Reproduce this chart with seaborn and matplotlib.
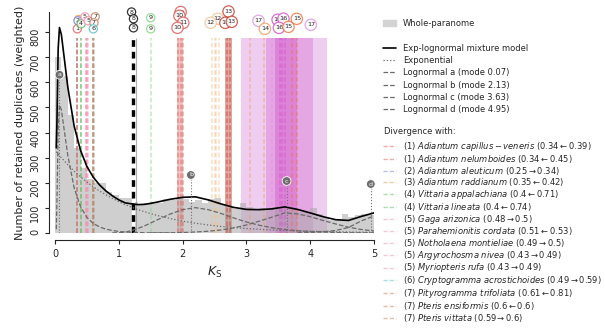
import numpy as np
import pandas as pd
import matplotlib
matplotlib.use("Agg")
import matplotlib.pyplot as plt
import seaborn as sns
from matplotlib.lines import Line2D
from matplotlib.patches import Patch

# ---------------- data ----------------
# whole-paranome Ks histogram (bin width 0.1, weighted counts)
hist_heights = [700, 625, 470, 340, 260, 215, 200, 200, 165, 150,
                140, 140, 125, 115, 120, 125, 120, 135, 130, 140,
                135, 125, 130, 120, 135, 140, 110, 100, 95, 120,
                105, 95, 100, 95, 105, 100, 95, 90, 85, 85,
                100, 75, 60, 50, 55, 75, 65, 70, 75, 70]

# model curves
curve_x = [0.02, 0.03, 0.05, 0.07, 0.1, 0.15, 0.2, 0.3, 0.4, 0.5, 0.6, 0.7, 0.8, 0.9,
           1.0, 1.1, 1.2, 1.3, 1.4, 1.5, 1.6, 1.8, 2.0, 2.2, 2.4, 2.6, 2.8, 3.0,
           3.2, 3.4, 3.6, 3.8, 4.0, 4.2, 4.4, 4.6, 4.8, 5.0]
mixture = [339, 440, 735, 818, 790, 686, 582, 426, 329, 265, 222, 191, 167, 148,
           132, 120, 116, 113, 114, 118, 123, 134, 142, 144, 132, 116, 102, 94,
           93, 96, 104, 94, 80, 65, 53, 50, 66, 80]
exponential = [324, 320, 315, 308, 300, 286, 272, 246, 224, 203, 184, 167, 152, 138,
               125, 113, 103, 93, 85, 77, 70, 58, 47, 39, 32, 26, 22, 18,
               15, 12, 10, 8, 7, 6, 5, 4, 3, 3]
logn_a = [15, 120, 420, 510, 490, 400, 310, 180, 105, 62, 38, 24, 15, 10,
          6, 4, 3, 2, 1, 0.7, 0.5, 0.2, 0, 0, 0, 0, 0, 0,
          0, 0, 0, 0, 0, 0, 0, 0, 0, 0]
logn_b = [0, 0, 0, 0, 0, 0, 0, 0, 0, 0, 0, 0, 0, 0.5,
          1, 3, 10, 18, 28, 40, 52, 75, 93, 101, 93, 78, 60, 44,
          31, 21, 14, 9, 6, 4, 2, 1, 1, 0.5]
logn_c = [0, 0, 0, 0, 0, 0, 0, 0, 0, 0, 0, 0, 0, 0,
          0, 0, 0, 0, 0, 0.3, 0.5, 1, 2, 4, 7, 12, 20, 32,
          47, 63, 80, 76, 65, 50, 36, 23, 14, 8]
logn_d = [0, 0, 0, 0, 0, 0, 0, 0, 0, 0, 0, 0, 0, 0,
          0, 0, 0, 0, 0, 0, 0, 0, 0, 0, 0, 0, 0, 0,
          0, 0, 0, 1, 2, 5, 10, 22, 48, 68]

mode_letters = ["a", "b", "c", "d"]
mode_ks = [0.07, 2.13, 3.63, 4.95]
mode_marker_y = [630, 231, 207, 195]
mode_labels = ["Lognormal a (mode 0.07)", "Lognormal b (mode 2.13)",
               "Lognormal c (mode 3.63)", "Lognormal d (mode 4.95)"]

# divergence lines shown in the legend
sp_group = [1, 1, 2, 3, 4, 4, 5, 5, 5, 5, 5, 6, 7, 7, 7]
sp_name = ["Adiantum\\ capillus-veneris", "Adiantum\\ nelumboides", "Adiantum\\ aleuticum",
           "Adiantum\\ raddianum", "Vittaria\\ appalachiana", "Vittaria\\ lineata",
           "Gaga\\ arizonica", "Parahemionitis\\ cordata", "Notholaena\\ montieliae",
           "Argyrochosma\\ nivea", "Myriopteris\\ rufa", "Cryptogramma\\ acrostichoides",
           "Pityrogramma\\ trifoliata", "Pteris\\ ensiformis", "Pteris\\ vittata"]
sp_from = ["0.34", "0.34", "0.25", "0.35", "0.4", "0.4", "0.48", "0.51", "0.49",
           "0.43", "0.43", "0.49", "0.61", "0.6", "0.59"]
sp_arrow = ["l", "l", "r", "l", "l", "l", "r", "l", "r", "r", "r", "r", "l", "l", "r"]
sp_to = ["0.39", "0.45", "0.34", "0.42", "0.71", "0.74", "0.5", "0.53", "0.5",
         "0.49", "0.49", "0.59", "0.81", "0.6", "0.6"]
sp_ks = [0.34, 0.34, 0.34, 0.35, 0.40, 0.40, 0.50, 0.51, 0.50, 0.49, 0.49, 0.59, 0.61, 0.60, 0.60]

group_colors = {1: "#e8585a", 2: "#7b7bdc", 3: "#e0a040", 4: "#5cb85c", 5: "#f48fb1",
                6: "#4fc1c1", 7: "#c0805a", 8: "#000000", 9: "#7ed67e", 10: "#d9534f",
                11: "#d9534f", 12: "#f2c08c", 13: "#c0392b", 14: "#f39c5a", 15: "#f0703a",
                16: "#d050c8", 17: "#dd90e0"}

# further divergence lines (groups 8-17)
extra_group = [8, 8, 9, 10, 10, 11, 12, 12, 12, 12, 13, 13, 14, 14, 15, 15, 16, 16, 16, 17]
extra_ks = [1.20, 1.27, 1.50, 1.93, 1.97, 2.00, 2.46, 2.50, 2.53, 2.57, 2.69, 2.75,
            3.27, 3.05, 3.72, 3.80, 3.52, 3.56, 3.60, 3.40]
# shaded ranges
span_lo = [1.92, 2.66, 2.91, 3.30, 3.45]
span_hi = [2.01, 2.78, 4.27, 4.05, 3.80]
span_group = [10, 13, 17, 16, 16]
span_alpha = [0.35, 0.45, 0.45, 0.3, 0.4]

# numbered labels at the top
lab_text = ["3", "2", "1", "4", "5", "5", "7", "7", "6", "8", "8", "8", "9", "9",
            "10", "10", "11", "10", "12", "12", "13", "13", "13",
            "17", "14", "16", "16", "16", "15", "15", "17"]
lab_x = [0.37, 0.36, 0.35, 0.41, 0.47, 0.52, 0.63, 0.61, 0.60, 1.20, 1.23, 1.23, 1.50, 1.50,
         1.97, 1.95, 2.01, 1.92, 2.55, 2.44, 2.72, 2.67, 2.77,
         3.19, 3.29, 3.49, 3.58, 3.51, 3.66, 3.79, 4.01]
lab_y = [850, 845, 813, 833, 861, 845, 861, 837, 813, 880, 853, 817, 857, 813,
         880, 865, 837, 817, 853, 837, 882, 837, 841,
         845, 813, 849, 853, 817, 821, 853, 829]
lab_group = [3, 2, 1, 4, 5, 5, 7, 7, 6, 8, 8, 8, 9, 9,
             10, 10, 11, 10, 12, 12, 13, 13, 13,
             17, 14, 16, 16, 16, 15, 15, 17]

# ---------------- plot ----------------
sns.set_style("ticks")
plt.rcParams["font.family"] = ["DejaVu Sans"]
fig = plt.figure(figsize=(6.05, 3.36), dpi=100)
ax = fig.add_axes([55 / 605, 1 - 233 / 336, (374 - 55) / 605, (233 - 12) / 336])
YTOP = 880
LTOP = 775

hist_df = pd.DataFrame({"ks": [0.05 + 0.1 * i for i in range(len(hist_heights))],
                        "w": hist_heights})
sns.histplot(data=hist_df, x="ks", weights="w", binwidth=0.1, binrange=(0, 5),
             color="#a8a8a8", alpha=0.55, linewidth=0, ax=ax, zorder=2)

# shaded ranges
for lo, hi, g, a in zip(span_lo, span_hi, span_group, span_alpha):
    ax.axvspan(lo, hi, ymin=0, ymax=LTOP / YTOP, color=group_colors[g], alpha=a,
               lw=0, zorder=1)

# divergence lines
for g, k in zip(sp_group + extra_group, sp_ks + extra_ks):
    if g == 8:
        ax.vlines(k, 0, LTOP, color="#909090", lw=0.8, alpha=0.7, zorder=3)
        continue
    ax.vlines(k, 0, LTOP, color=group_colors[g], lw=1.1, alpha=0.5,
              linestyles=(0, (3, 1.5)), zorder=3)
ax.vlines(1.23, 0, LTOP, color="black", lw=2.4, linestyles=(0, (2, 1.5)),
          gapcolor="white", zorder=4)

# model curves
curve_df = pd.DataFrame({"x": curve_x, "mix": mixture, "exp": exponential,
                         "a": logn_a, "b": logn_b, "c": logn_c, "d": logn_d})
for col in ["a", "b", "c", "d"]:
    sub = curve_df[curve_df[col] > 0]
    sns.lineplot(data=sub, x="x", y=col, color="#6a6a6a", lw=0.9, ls="--", ax=ax, zorder=5)
sns.lineplot(data=curve_df, x="x", y="exp", color="#6a6a6a", lw=0.9, ls=":", ax=ax, zorder=5)
sns.lineplot(data=curve_df, x="x", y="mix", color="black", lw=1.2, ax=ax, zorder=6)

# mode markers
for l, k, yv in zip(mode_letters, mode_ks, mode_marker_y):
    ax.vlines(k, 0, yv, color="#707070", lw=0.8, linestyles=":", zorder=6)
    ax.text(k, yv, l, fontsize=4.5, color="white", ha="center", va="center", zorder=7,
            bbox=dict(boxstyle="circle,pad=0.3", fc="#6e6e6e", ec="white", lw=0.6))

# numbered labels
for t, x, yv, g in zip(lab_text, lab_x, lab_y, lab_group):
    ax.text(x, yv, t, fontsize=4.6, color="#222222", ha="center", va="center",
            clip_on=False, zorder=8,
            bbox=dict(boxstyle="circle,pad=0.25", fc=(1, 1, 1, 0.6),
                      ec=group_colors[g], lw=0.9, alpha=0.8))

ax.set_xlim(0, 5)
ax.set_ylim(0, YTOP)
ax.set_xticks([0, 1, 2, 3, 4, 5])
ax.set_yticks(range(0, 801, 100))
ax.tick_params(axis="y", labelrotation=90, labelsize=7, length=3)
ax.tick_params(axis="x", labelsize=7, length=3)
for lab in ax.get_yticklabels():
    lab.set_va("center")
ax.set_xlabel(r"$K_\mathrm{S}$", fontsize=9)
ax.set_ylabel("Number of retained duplicates (weighted)", fontsize=8)
sns.despine(ax=ax, offset={"left": 4, "bottom": 5})
ax.spines["left"].set_bounds(0, YTOP)
ax.spines["bottom"].set_bounds(0, 5)

# legends
blank = Line2D([], [], color="none")
h1 = [Patch(color="#d3d3d3"), blank,
      Line2D([], [], color="black", lw=1.2),
      Line2D([], [], color="#6a6a6a", lw=0.9, ls=":")] + \
     [Line2D([], [], color="#6a6a6a", lw=0.9, ls="--") for _ in mode_labels]
l1 = ["Whole-paranome", "", "Exp-lognormal mixture model", "Exponential"] + mode_labels
leg1 = fig.legend(h1, l1, loc="upper left", bbox_to_anchor=(383 / 605, 1 - 19 / 336),
                  frameon=False, fontsize=6, labelspacing=0.4, borderpad=0,
                  handlelength=1.5, handletextpad=0.9, borderaxespad=0)

fig.text(384 / 605, 1 - 132 / 336, "Divergence with:", fontsize=6, va="center", ha="left")

h2, l2 = [], []
for g, n, f, a, t in zip(sp_group, sp_name, sp_from, sp_arrow, sp_to):
    arr = r"$\leftarrow$" if a == "l" else r"$\rightarrow$"
    h2.append(Line2D([], [], color=group_colors[g], lw=1.0, alpha=0.5, ls=(0, (3, 1.5))))
    l2.append(f"({g}) $\\it{{{n}}}$ ({f}{arr}{t})")
leg2 = fig.legend(h2, l2, loc="upper left", bbox_to_anchor=(383 / 605, 1 - 140 / 336),
                  frameon=False, fontsize=6, labelspacing=-0.03, borderpad=0,
                  handlelength=1.5, handletextpad=0.9, borderaxespad=0)

fig.savefig("out.png", dpi=100)
